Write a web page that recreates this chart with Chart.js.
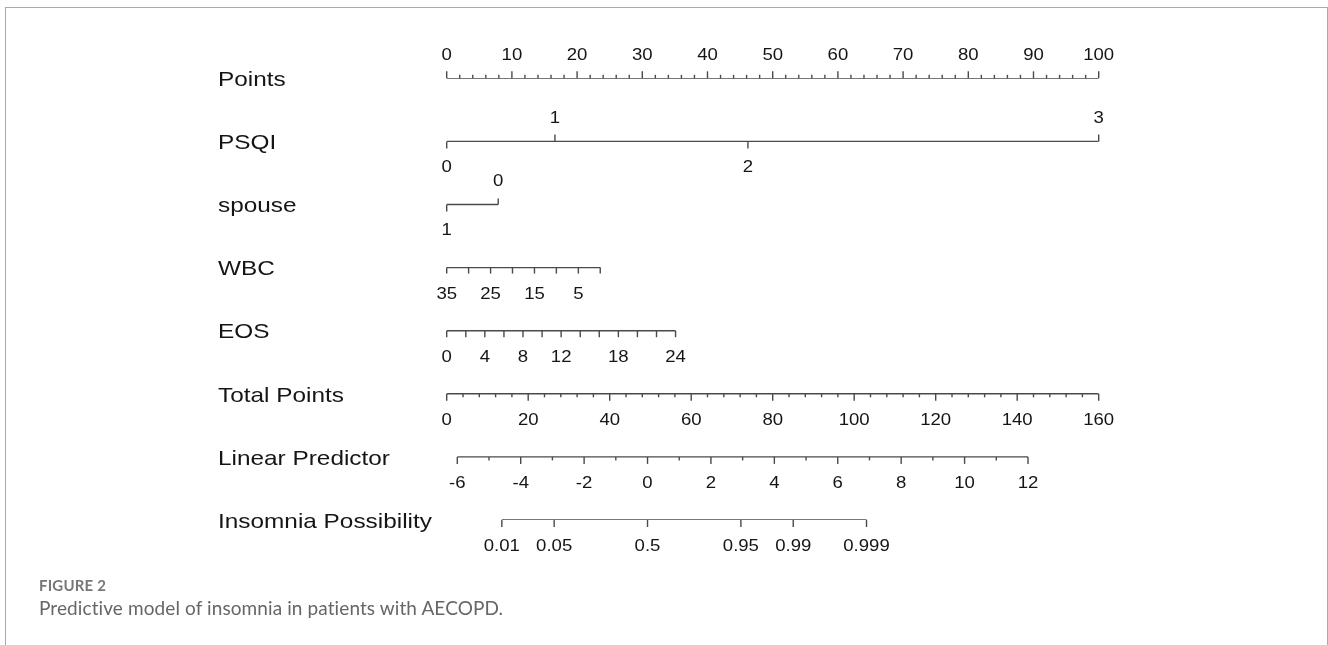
<!DOCTYPE html>
<html>
<head>
<meta charset="utf-8">
<script src="https://cdn.jsdelivr.net/npm/chart.js@4.4.0/dist/chart.umd.min.js"></script>
<style>
  html, body { margin: 0; padding: 0; background: #fff; }
  #wrap { position: relative; width: 1328px; height: 645px; overflow: hidden; }
  #frame { position: absolute; left: 5px; top: 7px; width: 1323px; height: 700px;
           border: 1px solid #aaa; border-bottom: none; box-sizing: border-box; }
  #nomogram { position: absolute; left: 0; top: 0; }
  .fig { position: absolute; left: 39px; top: 576px; line-height: 20px;
         font: bold 15px Lato, sans-serif; color: #777; letter-spacing: 0.2px; }
  .cap { position: absolute; left: 39px; top: 596px; line-height: 24px;
         font: 19px Lato, sans-serif; color: #666; letter-spacing: 0.1px; }
</style>
</head>
<body>
<div id="wrap">
  <div id="frame"></div>
  <canvas id="nomogram" width="1328" height="645"></canvas>
  <div class="fig">FIGURE 2</div>
  <div class="cap">Predictive model of insomnia in patients with AECOPD.</div>
</div>
<script>
// Nomogram rows (top to bottom)
const rowNames = ['Points', 'PSQI', 'spouse', 'WBC', 'EOS', 'Total Points', 'Linear Predictor', 'Insomnia Possibility'];

// Points scale 0-100, labelled every 10, minor ticks every 2
const pointsLabels = [0, 10, 20, 30, 40, 50, 60, 70, 80, 90, 100];

// PSQI levels and their points
const psqiLevels = ['0', '1', '2', '3'];
const psqiPoints = [0, 16.6, 46.2, 100];

// spouse levels and their points
const spouseLevels = ['1', '0'];
const spousePoints = [0, 7.9];

// WBC values and their points (reversed axis)
const wbcValues = [35, 30, 25, 20, 15, 10, 5, 0];
const wbcPoints = [0, 3.36, 6.73, 10.09, 13.46, 16.82, 20.19, 23.55];
const wbcShown = [35, 25, 15, 5];

// EOS values and their points
const eosValues = [0, 2, 4, 6, 8, 10, 12, 14, 16, 18, 20, 22, 24];
const eosPoints = [0, 2.93, 5.85, 8.78, 11.7, 14.63, 17.55, 20.48, 23.4, 26.33, 29.25, 32.18, 35.1];
const eosShown = [0, 4, 8, 12, 18, 24];

// Total points 0-160, labelled every 20, minor ticks every 4
const totalLabels = [0, 20, 40, 60, 80, 100, 120, 140, 160];

// Linear predictor -6..12, labelled every 2, minor every 1
const lpLabels = [-6, -4, -2, 0, 2, 4, 6, 8, 10, 12];

// Insomnia possibility labels (placed on the linear predictor scale)
const probLabels = ['0.01', '0.05', '0.5', '0.95', '0.99', '0.999'];

const LINE = '#4a4a4a';
const TEXT = '#151515';

function logit(p) { return Math.log(p / (1 - p)); }

function axisRow(row, xAxisID, xs, labels, dirs, lens) {
    return {
        label: rowNames[row],
        row: row,
        xAxisID: xAxisID,
        yAxisID: 'y',
        data: xs.map(x => ({ x: x, y: row })),
        tickLabels: labels,
        tickDirs: dirs,
        tickLens: lens,
        showLine: true,
        pointRadius: 0,
        borderColor: LINE,
        borderWidth: 1.4
    };
}

const datasets = [];

// Points
{
    const xs = [], labels = [], dirs = [], lens = [];
    for (let v = 0; v <= 100; v += 2) {
        const major = pointsLabels.includes(v);
        xs.push(v); labels.push(major ? String(v) : ''); dirs.push(-1); lens.push(major ? 7 : 3.5);
    }
    datasets.push(axisRow(0, 'x', xs, labels, dirs, lens));
}
// PSQI
datasets.push(axisRow(1, 'x', psqiPoints, psqiLevels, [1, -1, 1, -1], [7, 7, 7, 7]));
// spouse
datasets.push(axisRow(2, 'x', spousePoints, spouseLevels, [1, -1], [7, 6]));
// WBC
datasets.push(axisRow(3, 'x', wbcPoints,
    wbcValues.map(v => wbcShown.includes(v) ? String(v) : ''),
    wbcValues.map(() => 1), wbcValues.map(() => 6)));
// EOS
datasets.push(axisRow(4, 'x', eosPoints,
    eosValues.map(v => eosShown.includes(v) ? String(v) : ''),
    eosValues.map(() => 1), eosValues.map(() => 6.5)));
// Total Points
{
    const xs = [], labels = [], dirs = [], lens = [];
    for (let v = 0; v <= 160; v += 4) {
        const major = totalLabels.includes(v);
        xs.push(v); labels.push(major ? String(v) : ''); dirs.push(1); lens.push(major ? 7 : 3.5);
    }
    datasets.push(axisRow(5, 'xTotal', xs, labels, dirs, lens));
}
// Linear Predictor
{
    const xs = [], labels = [], dirs = [], lens = [];
    for (let v = -6; v <= 12; v += 1) {
        const major = lpLabels.includes(v);
        xs.push(v); labels.push(major ? String(v) : ''); dirs.push(1); lens.push(major ? 7 : 3.5);
    }
    datasets.push(axisRow(6, 'xLp', xs, labels, dirs, lens));
}
// Insomnia Possibility
datasets.push(axisRow(7, 'xLp', probLabels.map(p => logit(parseFloat(p))), probLabels,
    probLabels.map(() => 1), probLabels.map(() => 7)));

// text is slightly stretched horizontally in the original figure
function drawText(ctx, text, x, y, font, align) {
    ctx.save();
    ctx.translate(x, y);
    ctx.scale(1.16, 1);
    ctx.font = font;
    ctx.fillStyle = TEXT;
    ctx.textAlign = align;
    ctx.textBaseline = 'middle';
    ctx.fillText(text, 0, 0);
    ctx.restore();
}

const nomogramPlugin = {
    id: 'nomogram',
    afterDatasetsDraw(chart) {
        const ctx = chart.ctx;
        chart.data.datasets.forEach((ds, i) => {
            const meta = chart.getDatasetMeta(i);
            const yPx = chart.scales.y.getPixelForValue(ds.row);
            drawText(ctx, ds.label, 218, yPx + 2, '21px "Liberation Sans", Arial, sans-serif', 'left');
            ctx.save();
            ctx.strokeStyle = LINE;
            ctx.lineWidth = 1.4;
            meta.data.forEach((pt, j) => {
                const dir = ds.tickDirs[j];
                ctx.beginPath();
                ctx.moveTo(pt.x, pt.y);
                ctx.lineTo(pt.x, pt.y + dir * ds.tickLens[j]);
                ctx.stroke();
                if (ds.tickLabels[j]) {
                    const ly = pt.y + (dir < 0 ? -23 : 26.5);
                    drawText(ctx, ds.tickLabels[j], pt.x, ly, '16px "Liberation Sans", Arial, sans-serif', 'center');
                }
            });
            ctx.restore();
        });
    }
};

new Chart(document.getElementById('nomogram'), {
    type: 'scatter',
    data: { datasets: datasets },
    options: {
        responsive: false,
        animation: false,
        layout: { padding: { left: 446.7, right: 229.3, top: 78.3, bottom: 125 } },
        plugins: { legend: { display: false }, tooltip: { enabled: false } },
        scales: {
            x: { type: 'linear', min: 0, max: 100, display: false },
            xTotal: { type: 'linear', axis: 'x', min: 0, max: 160, display: false },
            xLp: { type: 'linear', axis: 'x', min: -6.334, max: 14.23, display: false },
            y: { type: 'linear', min: 0, max: 7, reverse: true, display: false }
        }
    },
    plugins: [nomogramPlugin]
});
</script>
</body>
</html>
